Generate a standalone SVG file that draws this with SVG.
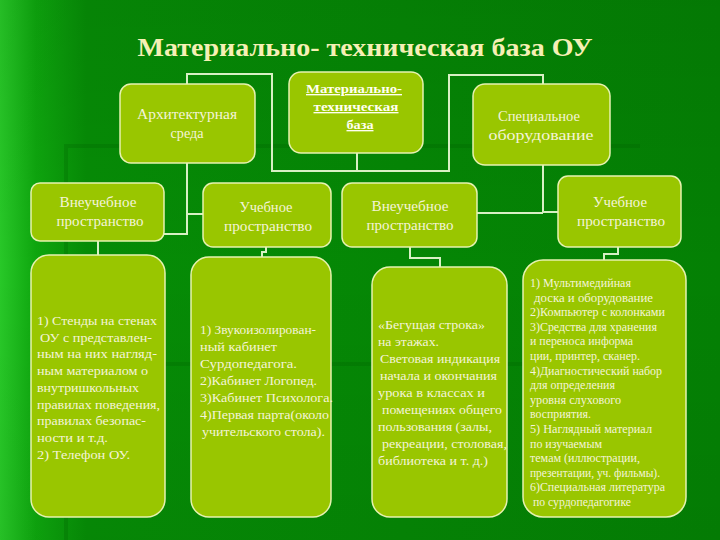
<svg xmlns="http://www.w3.org/2000/svg" width="720" height="540" viewBox="0 0 720 540">
<defs>
<linearGradient id="bg" x1="0" y1="0" x2="1" y2="0">
<stop offset="0" stop-color="#28c828"/>
<stop offset="0.05" stop-color="#0ea60e"/>
<stop offset="0.12" stop-color="#068c06"/>
<stop offset="1" stop-color="#048004"/>
</linearGradient>
<linearGradient id="bgv" x1="0" y1="0" x2="0" y2="1">
<stop offset="0" stop-color="#000" stop-opacity="0.06"/>
<stop offset="0.5" stop-color="#000" stop-opacity="0"/>
<stop offset="1" stop-color="#000" stop-opacity="0.04"/>
</linearGradient>
<style>
.box{fill:#99c600;stroke:#e6f2b0;stroke-width:1.5}
.lbl{font-size:14px;fill:#f4f4d8;text-anchor:middle}
.ctr{font-size:13.5px;font-weight:bold;fill:#fffff2;text-anchor:middle;text-decoration:underline}
.txt{font-size:13.5px;fill:#f4f4d8}
.sm{font-size:12px;fill:#f4f4d8}
.con{fill:none;stroke:#d8f0c4;stroke-width:2}
.band{fill:none;stroke:#006000;stroke-opacity:0.25;stroke-width:4}
</style>
</defs>
<rect width="720" height="540" fill="url(#bg)"/>
<rect width="720" height="540" fill="url(#bgv)"/>
<path class="band" d="M66,540 V146 H640 M66,364 H640"/>

<g font-family="'Liberation Serif', serif" lengthAdjust="spacingAndGlyphs">
<text x="365" y="56" font-size="26" font-weight="bold" fill="#f6f0b4" text-anchor="middle" textLength="455" lengthAdjust="spacingAndGlyphs">Материально- техническая база ОУ</text>

<g id="connectors">
<path class="con" d="M164,234 H187 V74 H272 V171 H449 V75 H543 V212 H558"/>
<path class="con" d="M187,214 H203"/>
<path class="con" d="M357,153 V171"/>
<path class="con" d="M477,213 H543"/>
<path class="con" d="M98,241 V255"/>
<path class="con" d="M266,247 V252 H262 V257"/>
<path class="con" d="M410,247 V258 H440 V267"/>
<path class="con" d="M618,247 V254 H604 V260"/>
</g>

<g id="arch">
<rect class="box" x="120" y="84" width="135" height="79" rx="11"/>
<text class="lbl" x="187" y="119" textLength="100" lengthAdjust="spacingAndGlyphs">Архитектурная</text>
<text class="lbl" x="187" y="138" textLength="33" lengthAdjust="spacingAndGlyphs">среда</text>
</g>
<g id="center">
<rect class="box" x="289" y="72" width="134" height="81" rx="12"/>
<text class="ctr" x="354" y="93" textLength="96" lengthAdjust="spacingAndGlyphs">Материально-</text>
<text class="ctr" x="356" y="111" textLength="85" lengthAdjust="spacingAndGlyphs">техническая</text>
<text class="ctr" x="360" y="129" textLength="27" lengthAdjust="spacingAndGlyphs">база</text>
</g>
<g id="special">
<rect class="box" x="473" y="84" width="137" height="81" rx="12"/>
<text class="lbl" x="539" y="121" textLength="82" lengthAdjust="spacingAndGlyphs">Специальное</text>
<text class="lbl" x="541" y="140" textLength="105" lengthAdjust="spacingAndGlyphs">оборудование</text>
</g>

<g id="vne1">
<rect class="box" x="31" y="183" width="133" height="58" rx="9"/>
<text class="lbl" x="98" y="207" textLength="77" lengthAdjust="spacingAndGlyphs">Внеучебное</text>
<text class="lbl" x="100" y="226" textLength="87" lengthAdjust="spacingAndGlyphs">пространство</text>
</g>
<g id="ucheb1">
<rect class="box" x="203" y="183" width="128" height="64" rx="10"/>
<text class="lbl" x="266" y="212" textLength="53" lengthAdjust="spacingAndGlyphs">Учебное</text>
<text class="lbl" x="268" y="231" textLength="88" lengthAdjust="spacingAndGlyphs">пространство</text>
</g>
<g id="vne2">
<rect class="box" x="342" y="183" width="135" height="64" rx="10"/>
<text class="lbl" x="410" y="211" textLength="77" lengthAdjust="spacingAndGlyphs">Внеучебное</text>
<text class="lbl" x="410" y="230" textLength="87" lengthAdjust="spacingAndGlyphs">пространство</text>
</g>
<g id="ucheb2">
<rect class="box" x="558" y="176" width="123" height="71" rx="10"/>
<text class="lbl" x="620" y="207" textLength="54" lengthAdjust="spacingAndGlyphs">Учебное</text>
<text class="lbl" x="621" y="226" textLength="88" lengthAdjust="spacingAndGlyphs">пространство</text>
</g>

<g id="list1" class="txt">
<rect class="box" x="31" y="255" width="134" height="262" rx="18"/>
<text x="37" y="325" textLength="120" lengthAdjust="spacingAndGlyphs">1) Стенды на стенах</text>
<text x="40" y="341.7" textLength="112" lengthAdjust="spacingAndGlyphs">ОУ с представлен-</text>
<text x="37" y="358.4" textLength="120" lengthAdjust="spacingAndGlyphs">ным на них  нагляд-</text>
<text x="37" y="375.1" textLength="111" lengthAdjust="spacingAndGlyphs">ным материалом о</text>
<text x="37" y="391.8" textLength="102" lengthAdjust="spacingAndGlyphs">внутришкольных</text>
<text x="37" y="408.5" textLength="123" lengthAdjust="spacingAndGlyphs">правилах поведения,</text>
<text x="37" y="425.2" textLength="109" lengthAdjust="spacingAndGlyphs">правилах безопас-</text>
<text x="37" y="441.9" textLength="71" lengthAdjust="spacingAndGlyphs">ности и т.д.</text>
<text x="37" y="458.6" textLength="93" lengthAdjust="spacingAndGlyphs">2) Телефон ОУ.</text>
</g>
<g id="list2" class="txt">
<rect class="box" x="191" y="257" width="140" height="260" rx="18"/>
<text x="200" y="334" textLength="116" lengthAdjust="spacingAndGlyphs">1) Звукоизолирован-</text>
<text x="200" y="351" textLength="77" lengthAdjust="spacingAndGlyphs">ный  кабинет</text>
<text x="200" y="368" textLength="97" lengthAdjust="spacingAndGlyphs">Сурдопедагога.</text>
<text x="200" y="385" textLength="117" lengthAdjust="spacingAndGlyphs">2)Кабинет Логопед.</text>
<text x="200" y="402" textLength="133" lengthAdjust="spacingAndGlyphs">3)Кабинет Психолога.</text>
<text x="200" y="419" textLength="129" lengthAdjust="spacingAndGlyphs">4)Первая парта(около</text>
<text x="202" y="436" textLength="123" lengthAdjust="spacingAndGlyphs">учительского стола).</text>
</g>
<g id="list3" class="txt">
<rect class="box" x="372" y="267" width="135" height="250" rx="18"/>
<text x="378" y="329" textLength="107" lengthAdjust="spacingAndGlyphs">«Бегущая строка»</text>
<text x="378" y="346" textLength="61" lengthAdjust="spacingAndGlyphs">на этажах.</text>
<text x="380" y="363" textLength="120" lengthAdjust="spacingAndGlyphs">Световая индикация</text>
<text x="380" y="380" textLength="117" lengthAdjust="spacingAndGlyphs">начала и окончания</text>
<text x="378" y="397" textLength="107" lengthAdjust="spacingAndGlyphs">урока в классах и</text>
<text x="382" y="414" textLength="120" lengthAdjust="spacingAndGlyphs">помещениях общего</text>
<text x="378" y="431" textLength="114" lengthAdjust="spacingAndGlyphs">пользования (залы,</text>
<text x="382" y="448" textLength="125" lengthAdjust="spacingAndGlyphs">рекреации, столовая,</text>
<text x="378" y="465" textLength="110" lengthAdjust="spacingAndGlyphs">библиотека и т. д.)</text>
</g>
<g id="list4" class="sm">
<rect class="box" x="523" y="260" width="163" height="257" rx="20"/>
<text x="530" y="287" textLength="101" lengthAdjust="spacingAndGlyphs">1) Мультимедийная</text>
<text x="534" y="301.6" textLength="119" lengthAdjust="spacingAndGlyphs">доска и оборудование</text>
<text x="530" y="316.2" textLength="135" lengthAdjust="spacingAndGlyphs">2)Компьютер с колонками</text>
<text x="530" y="330.8" textLength="127" lengthAdjust="spacingAndGlyphs">3)Средства для хранения</text>
<text x="530" y="345.4" textLength="103" lengthAdjust="spacingAndGlyphs">и переноса информа</text>
<text x="530" y="360" textLength="110" lengthAdjust="spacingAndGlyphs">ции, принтер, сканер.</text>
<text x="530" y="374.6" textLength="132" lengthAdjust="spacingAndGlyphs">4)Диагностический набор</text>
<text x="530" y="389.2" textLength="85" lengthAdjust="spacingAndGlyphs">для определения</text>
<text x="530" y="403.8" textLength="91" lengthAdjust="spacingAndGlyphs">уровня слухового</text>
<text x="530" y="418.4" textLength="61" lengthAdjust="spacingAndGlyphs">восприятия.</text>
<text x="530" y="433" textLength="122" lengthAdjust="spacingAndGlyphs">5) Наглядный материал</text>
<text x="530" y="447.6" textLength="72" lengthAdjust="spacingAndGlyphs">по изучаемым</text>
<text x="530" y="462.2" textLength="110" lengthAdjust="spacingAndGlyphs">темам (иллюстрации,</text>
<text x="530" y="476.8" textLength="130" lengthAdjust="spacingAndGlyphs">презентации, уч. фильмы).</text>
<text x="530" y="491.4" textLength="135" lengthAdjust="spacingAndGlyphs">6)Специальная литература</text>
<text x="533" y="506" textLength="98" lengthAdjust="spacingAndGlyphs">по сурдопедагогике</text>
</g>
</g>
</svg>
